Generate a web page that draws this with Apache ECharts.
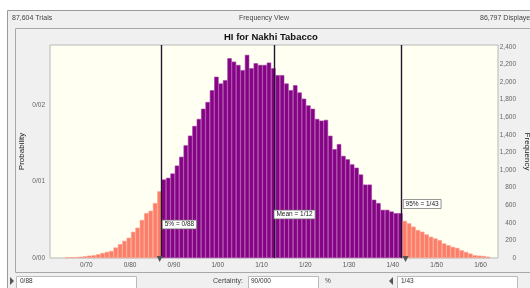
<!DOCTYPE html>
<html><head><meta charset="utf-8">
<script src="https://cdn.jsdelivr.net/npm/echarts@6/dist/echarts.min.js"></script>
<style>html,body{margin:0;padding:0;background:#ffffff;}#c{width:530px;height:288px;}</style>
</head><body><div id="c"></div>
<script>
// ---- data ----
const chartTitle = 'HI for Nakhi Tabacco';
const trialsText = '87,604 Trials';
const viewText = 'Frequency View';
const displayedText = '86,797 Displayed';
const displayedCount = 86797;
const binStart = 0.652;   // left edge of first bin
const binWidth = 0.01;
const counts = [
  5, 8, 10, 15, 20, 27, 31, 42, 57, 69, 80, 119, 157, 195, 230, 298, 344, 432, 509, 536, 624, 758,
  892, 911, 960, 1050, 1150, 1280, 1390, 1500, 1580, 1695, 1772, 1906, 2059, 1982, 2021, 2269, 2231, 2193, 2135, 2308, 2155, 2212, 2193, 2193, 2220,
  2155, 2078, 2078, 1982, 1906, 1963, 1880, 1810, 1734, 1695, 1580, 1561, 1569, 1389, 1236, 1294, 1160, 1121, 1064, 1026, 949, 834, 834, 662, 624, 547, 547, 528, 509, 509,
  421, 394, 356, 318, 299, 268, 241, 222, 203, 165, 145, 126, 115, 88, 69, 50, 31, 27, 23, 15
];
const xTickValues = [0.7, 0.8, 0.9, 1.0, 1.1, 1.2, 1.3, 1.4, 1.5, 1.6];
const xTickLabels = ['0/70', '0/80', '0/90', '1/00', '1/10', '1/20', '1/30', '1/40', '1/50', '1/60'];
const probTickValues = [0, 0.01, 0.02];
const probTickLabels = ['0/00', '0/01', '0/02'];
const freqTickValues = [0, 200, 400, 600, 800, 1000, 1200, 1400, 1600, 1800, 2000, 2200, 2400];
const freqTickLabels = ['0', '200', '400', '600', '800', '1,000', '1,200', '1,400', '1,600', '1,800', '2,000', '2,200', '2,400'];
const lowerValue = 0.872;
const meanValue = 1.127;
const upperValue = 1.422;
const markerTexts = ['5% = 0/88', 'Mean = 1/12', '95% = 1/43'];
const lowerText = '0/88';
const certaintyLabel = 'Certainty:';
const certaintyText = '90/000';
const percentText = '%';
const upperText = '1/43';

// ---- layout / style ----
const FONT = 'Liberation Sans';
const xMin = 0.617, xMax = 1.64;
const freqMax = 2420;
const PURPLE = '#850385', SALMON = '#fb7e68';

function lookup(vals, labels, v) {
  for (let i = 0; i < vals.length; i++) if (Math.abs(vals[i] - v) < 1e-6) return labels[i];
  return '';
}

const barData = counts.map((c, i) => {
  const center = binStart + binWidth * (i + 0.5);
  const inside = center > lowerValue && center < upperValue;
  return {
    value: [center, c],
    itemStyle: { color: inside ? PURPLE : SALMON, borderColor: inside ? '#a53aa5' : '#ff9e8c' }
  };
});

const chart = echarts.init(document.getElementById('c'), null, { renderer: 'canvas' });

const labelStyle = {
  show: true, position: 'right', distance: 1,
  fontFamily: FONT, fontSize: 6.5, color: '#222',
  backgroundColor: '#ffffff', borderColor: '#777', borderWidth: 0.8, padding: [1, 2, 0, 2]
};

chart.setOption({
  animation: false,
  textStyle: { fontFamily: FONT },
  graphic: [
    { type: 'rect', z: -10, shape: { x: 7.5, y: 10.5, width: 530, height: 280 }, style: { fill: '#f0f0f0', stroke: '#9a9a9a', lineWidth: 1 } },
    { type: 'rect', z: -9, shape: { x: 15.5, y: 28.5, width: 520, height: 244 }, style: { fill: '#f0f0f0', stroke: '#a8a8a8', lineWidth: 1 } },
    { type: 'text', z: 10, left: 12, top: 15, style: { text: trialsText, fontFamily: FONT, fontSize: 7, fill: '#444' } },
    { type: 'text', z: 10, left: 239, top: 15, style: { text: viewText, fontFamily: FONT, fontSize: 7, fill: '#444' } },
    { type: 'text', z: 10, left: 480, top: 15, style: { text: displayedText, fontFamily: FONT, fontSize: 7, fill: '#444' } },
    { type: 'text', z: 10, left: 224, top: 32, style: { text: chartTitle, fontFamily: FONT, fontSize: 9.5, fontWeight: 'bold', fill: '#111' } },
    // bottom certainty row
    { type: 'polygon', z: 10, shape: { points: [[10, 277], [14, 281], [10, 285]] }, style: { fill: '#555' } },
    { type: 'rect', z: 5, shape: { x: 16.5, y: 276.5, width: 120, height: 13 }, style: { fill: '#fff', stroke: '#bbb', lineWidth: 1 } },
    { type: 'text', z: 10, left: 20, top: 278, style: { text: lowerText, fontFamily: FONT, fontSize: 6.5, fill: '#333' } },
    { type: 'text', z: 10, left: 213, top: 278, style: { text: certaintyLabel, fontFamily: FONT, fontSize: 7, fill: '#444' } },
    { type: 'rect', z: 5, shape: { x: 248.5, y: 276.5, width: 70, height: 13 }, style: { fill: '#fff', stroke: '#bbb', lineWidth: 1 } },
    { type: 'text', z: 10, left: 251, top: 278, style: { text: certaintyText, fontFamily: FONT, fontSize: 6.5, fill: '#333' } },
    { type: 'text', z: 10, left: 325, top: 278, style: { text: percentText, fontFamily: FONT, fontSize: 6.5, fill: '#444' } },
    { type: 'polygon', z: 10, shape: { points: [[393, 277], [389, 281], [393, 285]] }, style: { fill: '#555' } },
    { type: 'rect', z: 5, shape: { x: 397.5, y: 276.5, width: 120, height: 13 }, style: { fill: '#fff', stroke: '#bbb', lineWidth: 1 } },
    { type: 'text', z: 10, left: 401, top: 278, style: { text: upperText, fontFamily: FONT, fontSize: 6.5, fill: '#333' } }
  ],
  grid: {
    left: 50, right: 32, top: 45, bottom: 30,
    outerBoundsMode: 'none', containLabel: false,
    show: true, backgroundColor: '#fffff2', borderColor: '#b8b8b8', borderWidth: 1
  },
  xAxis: {
    type: 'value', min: xMin, max: xMax, minInterval: 0.1, maxInterval: 0.1,
    axisLine: { show: false }, axisTick: { show: false }, splitLine: { show: false },
    axisLabel: {
      margin: 4, fontSize: 6.5, color: '#555', fontFamily: FONT,
      formatter: v => lookup(xTickValues, xTickLabels, v)
    }
  },
  yAxis: [
    {
      type: 'value', min: 0, max: freqMax / displayedCount, interval: 0.01, position: 'left',
      name: 'Probability', nameLocation: 'middle', nameGap: 24, nameRotate: 90, nameMoveOverlap: false,
      nameTextStyle: { fontFamily: FONT, fontSize: 8, color: '#222' },
      axisLine: { show: false }, axisTick: { show: false }, splitLine: { show: false },
      axisLabel: { margin: 5, fontSize: 6.5, color: '#666', fontFamily: FONT,
        formatter: v => lookup(probTickValues, probTickLabels, v) }
    },
    {
      type: 'value', min: 0, max: freqMax, interval: 200, position: 'right',
      name: 'Frequency', nameLocation: 'middle', nameGap: 25, nameRotate: -90, nameMoveOverlap: false,
      nameTextStyle: { fontFamily: FONT, fontSize: 8, color: '#222' },
      axisLine: { show: false }, axisTick: { show: false }, splitLine: { show: false },
      axisLabel: { margin: 18, align: 'right', fontSize: 6.5, color: '#666', fontFamily: FONT,
        formatter: v => lookup(freqTickValues, freqTickLabels, v) }
    }
  ],
  series: [{
    type: 'bar', yAxisIndex: 1, data: barData, barWidth: 4.4,
    itemStyle: { borderWidth: 0.6 },
    markLine: {
      silent: true, symbol: 'none', label: { show: false },
      lineStyle: { color: '#24142e', width: 1.4, type: 'solid' },
      data: [{ xAxis: lowerValue }, { xAxis: meanValue }, { xAxis: upperValue }]
    },
    markPoint: {
      silent: true,
      data: [
        { coord: [lowerValue, 380], symbol: 'rect', symbolSize: 0.1, label: Object.assign({}, labelStyle, { formatter: markerTexts[0] }) },
        { coord: [meanValue, 494], symbol: 'rect', symbolSize: 0.1, label: Object.assign({}, labelStyle, { formatter: markerTexts[1] }) },
        { coord: [upperValue, 614], symbol: 'rect', symbolSize: 0.1, label: Object.assign({}, labelStyle, { formatter: markerTexts[2] }) },
        { coord: [lowerValue, 0], symbol: 'triangle', symbolSize: [6, 6], symbolRotate: 180, symbolOffset: [-2, 1], itemStyle: { color: '#555' }, label: { show: false } },
        { coord: [upperValue, 0], symbol: 'triangle', symbolSize: [6, 6], symbolRotate: 180, symbolOffset: [3, 1], itemStyle: { color: '#555' }, label: { show: false } }
      ]
    }
  }]
});
</script></body></html>
